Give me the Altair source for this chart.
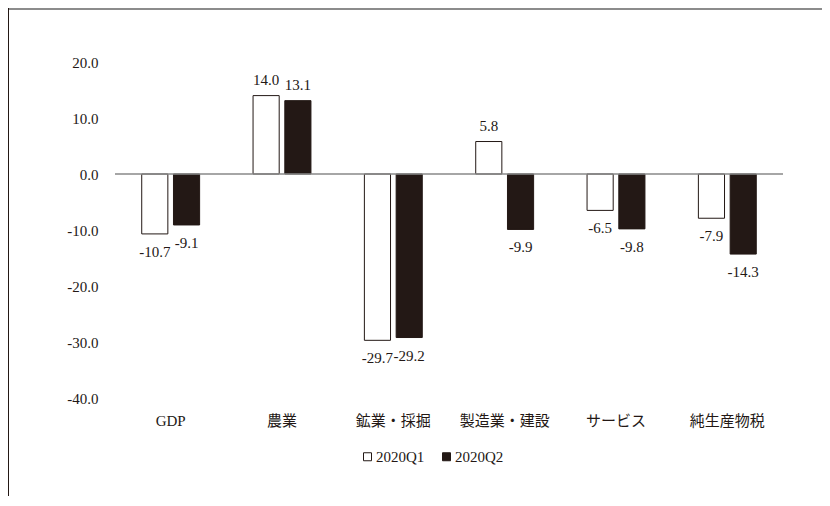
import altair as alt
import pandas as pd

categories = ["GDP", "農業", "鉱業・採掘", "製造業・建設", "サービス", "純生産物税"]
series = ["2020Q1", "2020Q2"]
q1 = [-10.7, 14.0, -29.7, 5.8, -6.5, -7.9]
q2 = [-9.1, 13.1, -29.2, -9.9, -9.8, -14.3]
y_ticks = [-40, -30, -20, -10, 0, 10, 20]

rows = []
for c, a, b in zip(categories, q1, q2):
    rows.append({"category": c, "series": series[0], "value": a})
    rows.append({"category": c, "series": series[1], "value": b})
df = pd.DataFrame(rows)

FONT = "Liberation Serif, Noto Sans CJK JP, serif"
INK = "#231815"
W, H = 668, 336
PAD_L, PAD_T, PAD_R, PAD_B = 107, 54, 39, 98
HYPHEN = "replace(format(datum.value, '.1f'), '\u2212', '-')"

x_enc = alt.X(
    "category:N", sort=categories,
    scale=alt.Scale(paddingInner=0.48, paddingOuter=0.24),
    axis=alt.Axis(title=None, labelAngle=0, domain=False, ticks=False,
                  labelPadding=15, labelFontSize=15, labelFont=FONT,
                  labelColor=INK),
)
xoff = alt.XOffset("series:N", sort=series,
                   scale=alt.Scale(paddingInner=0.177, paddingOuter=0))
y_enc = alt.Y(
    "value:Q",
    scale=alt.Scale(domain=[-40, 20], nice=False),
    axis=alt.Axis(title=None, values=y_ticks, labelExpr=HYPHEN, grid=False,
                  domain=False, ticks=False, labelPadding=17,
                  labelFontSize=15, labelFont=FONT, labelColor=INK),
)

base = alt.Chart(df).transform_calculate(label=HYPHEN)

bars = base.mark_bar(stroke=INK, strokeWidth=1).encode(
    x=x_enc, xOffset=xoff, y=y_enc,
    fill=alt.Fill(
        "series:N", sort=series,
        scale=alt.Scale(domain=series, range=["#ffffff", INK]),
        legend=alt.Legend(title=None, orient="none", legendX=245, legendY=387,
                          direction="horizontal", symbolType="square",
                          symbolSize=64, symbolStrokeColor=INK,
                          symbolStrokeWidth=1, labelFont=FONT,
                          labelFontSize=15, labelColor=INK,
                          columnPadding=14, labelOffset=1),
    ),
)

txt = dict(font=FONT, fontSize=15, color=INK)
pos = base.transform_filter("datum.value >= 0").mark_text(
    baseline="alphabetic", dy=-11, **txt
).encode(x=x_enc, xOffset=xoff, y=y_enc, text="label:N")
neg = base.transform_filter("datum.value < 0").mark_text(
    baseline="alphabetic", dy=23, **txt
).encode(x=x_enc, xOffset=xoff, y=y_enc, text="label:N")

zero = alt.Chart(pd.DataFrame({"z": [0]})).mark_rule(
    color="#898989", strokeWidth=1.3
).encode(y="z:Q")

one = pd.DataFrame({"a": [0]})
frame_top = alt.Chart(one).mark_rule(color="#8c8c8c", strokeWidth=2).encode(
    x=alt.value(-PAD_L), x2=alt.value(W + PAD_R), y=alt.value(-PAD_T + 1)
)
frame_left = alt.Chart(one).mark_rule(color=INK, strokeWidth=1).encode(
    x=alt.value(-PAD_L + 0.5), y=alt.value(-PAD_T), y2=alt.value(H + PAD_B)
)

chart = alt.layer(frame_top, frame_left, bars, zero, pos, neg).properties(
    width=W, height=H,
    padding={"left": PAD_L, "top": PAD_T, "right": PAD_R, "bottom": PAD_B},
    autosize=alt.AutoSizeParams(type="none"),
).configure(background="white").configure_view(stroke=None, strokeWidth=0)

chart.save("out.html", embed_options={"renderer": "svg", "actions": False})
